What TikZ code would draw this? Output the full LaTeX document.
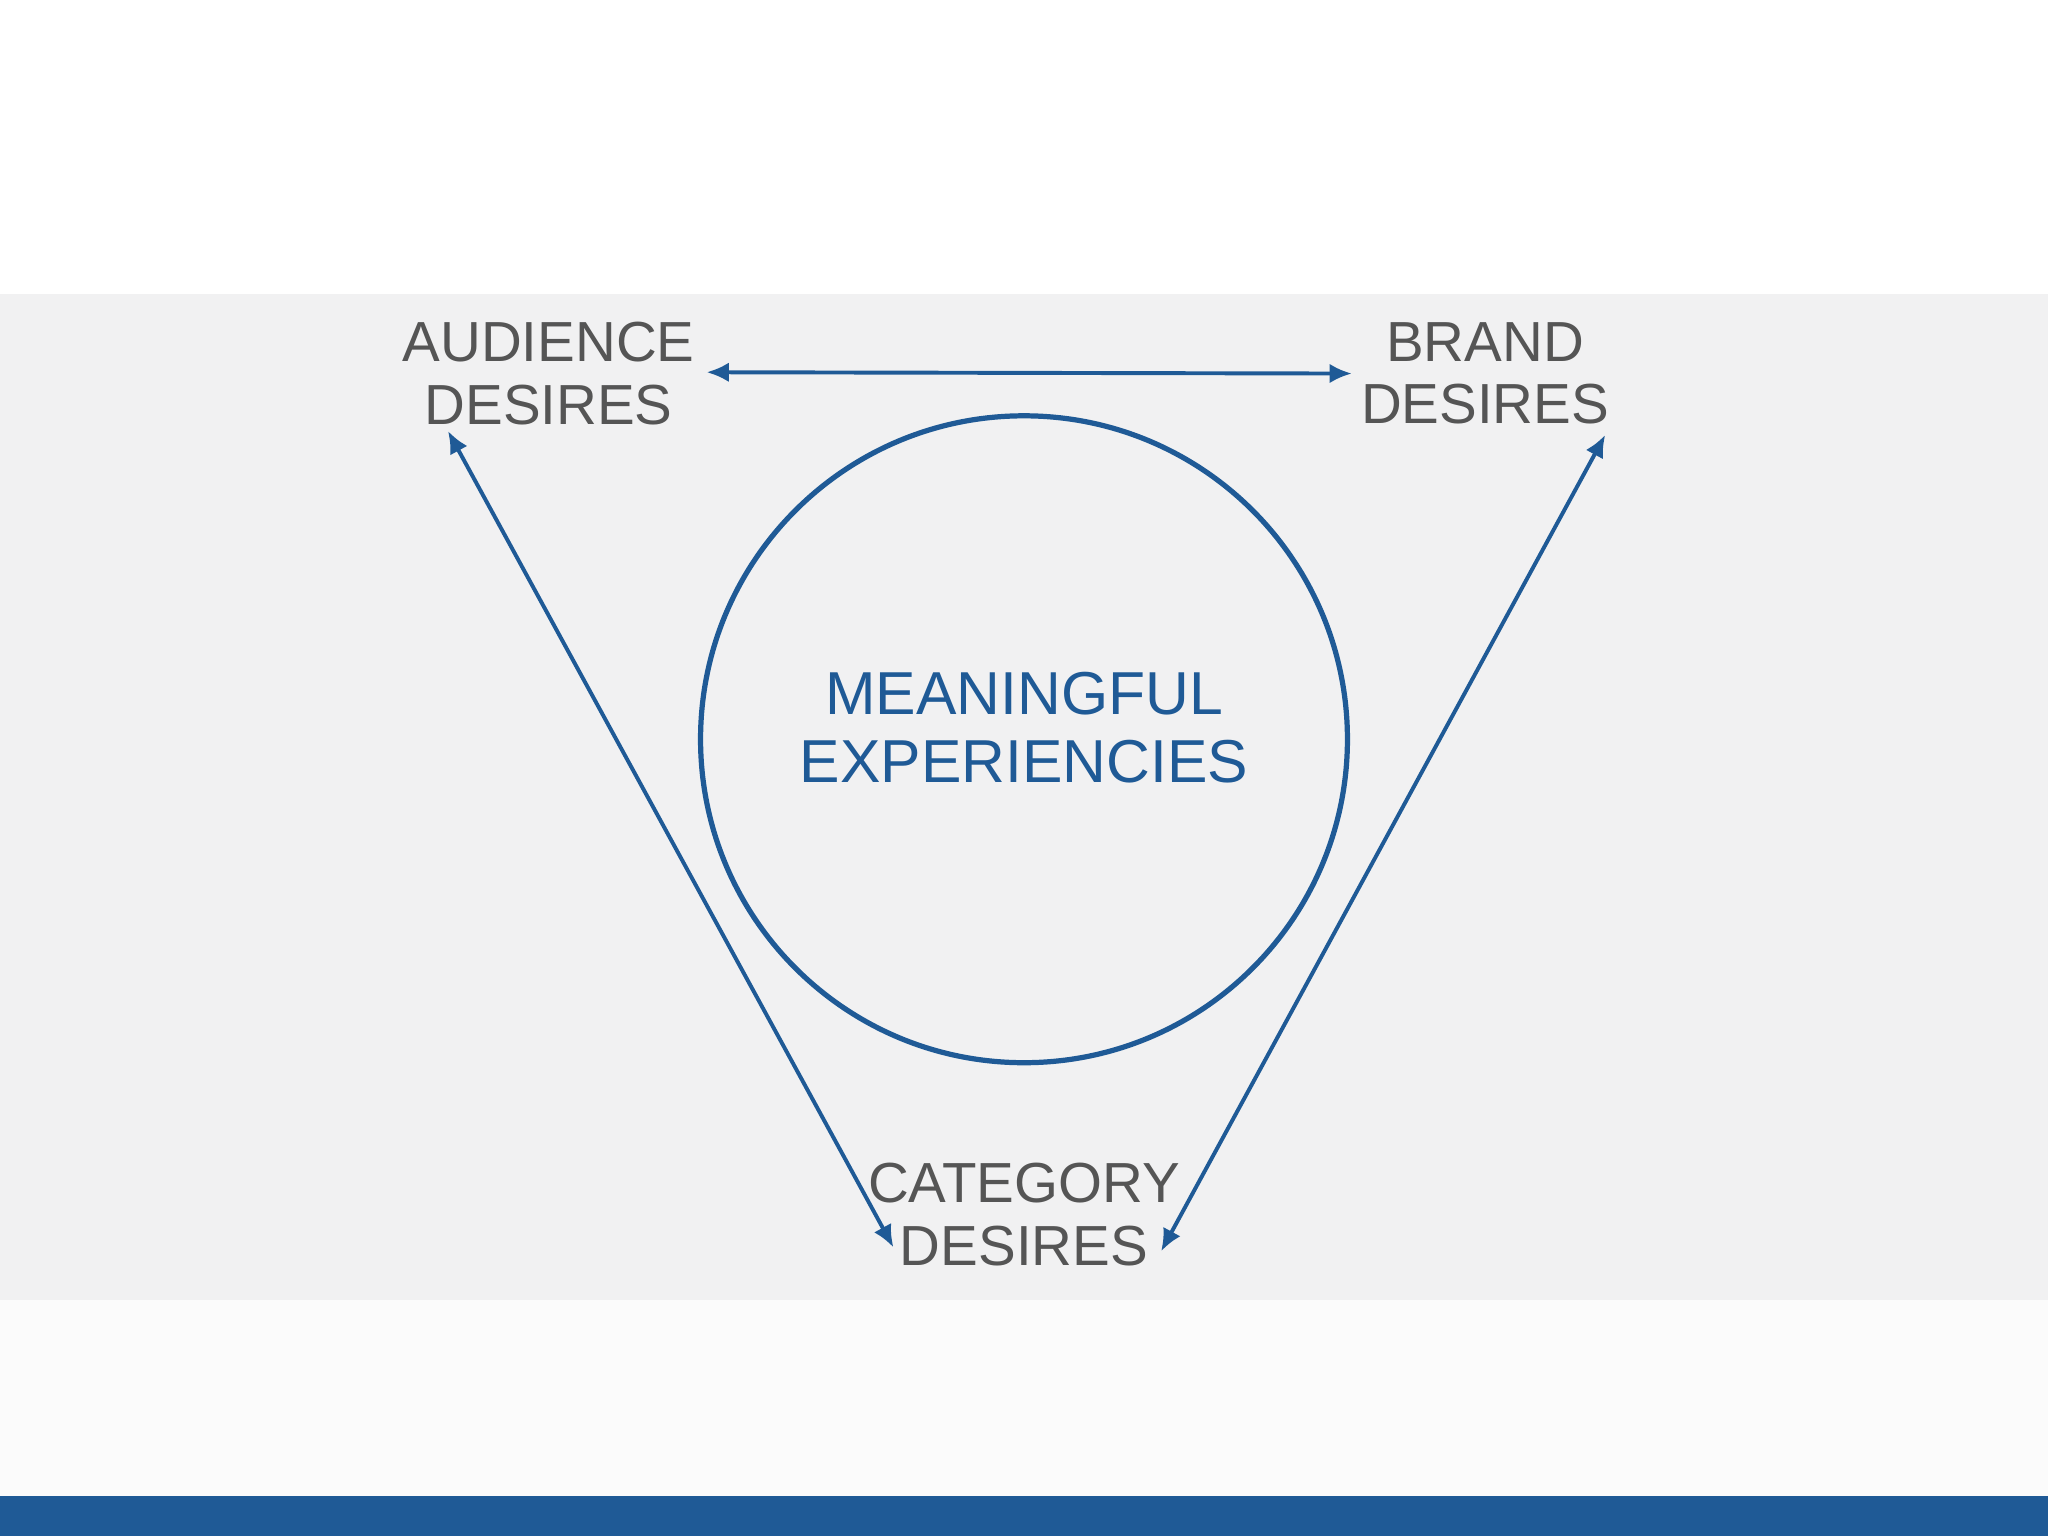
\documentclass[tikz,border=0pt]{standalone}
\usepackage{fontspec}
\setmainfont{Liberation Sans}
\usetikzlibrary{arrows.meta}
\definecolor{bandgrey}{HTML}{F1F1F2}
\definecolor{lowgrey}{HTML}{FBFBFB}
\definecolor{darkblue}{HTML}{1F5A96}
\definecolor{txtgrey}{HTML}{555555}
\tikzset{
  lbl/.style={text=txtgrey,align=center,font=\fontsize{12.3}{13.6}\selectfont},
  conn/.style={draw=darkblue,line width=0.03cm,{Latex[length=0.17cm,width=0.15cm]}-{Latex[length=0.17cm,width=0.15cm]}}
}
\begin{document}
\begin{tikzpicture}[x=0.01cm,y=-0.01cm]
\useasboundingbox (0,0) rectangle (1568,1176);
\fill[white] (0,0) rectangle (1568,1176);
\fill[bandgrey] (0,225) rectangle (1568,995);
\fill[lowgrey] (0,995) rectangle (1568,1145);
\fill[darkblue] (0,1145) rectangle (1568,1176);
\node[draw=darkblue,line width=0.04cm,circle,minimum size=4.95cm,inner sep=0] (c) at (784,566) {};
\node[text=darkblue,align=center,font=\fontsize{13.2}{14.8}\selectfont] (m) at (784,557) {MEANINGFUL\\EXPERIENCIES};
\node[lbl] (a) at (420,286) {AUDIENCE\\DESIRES};
\node[lbl] (b) at (1137,286) {BRAND\\DESIRES};
\node[lbl] (k) at (784,930) {CATEGORY\\DESIRES};
\coordinate (h1) at (541,285);
\coordinate (h2) at (1035,286);
\coordinate (l1) at (343,330);
\coordinate (l2) at (684,955);
\coordinate (r1) at (1229,333);
\coordinate (r2) at (889,958);
\draw[conn] (h1) -- (h2);
\draw[conn] (l1) -- (l2);
\draw[conn] (r1) -- (r2);
\end{tikzpicture}
\end{document}
